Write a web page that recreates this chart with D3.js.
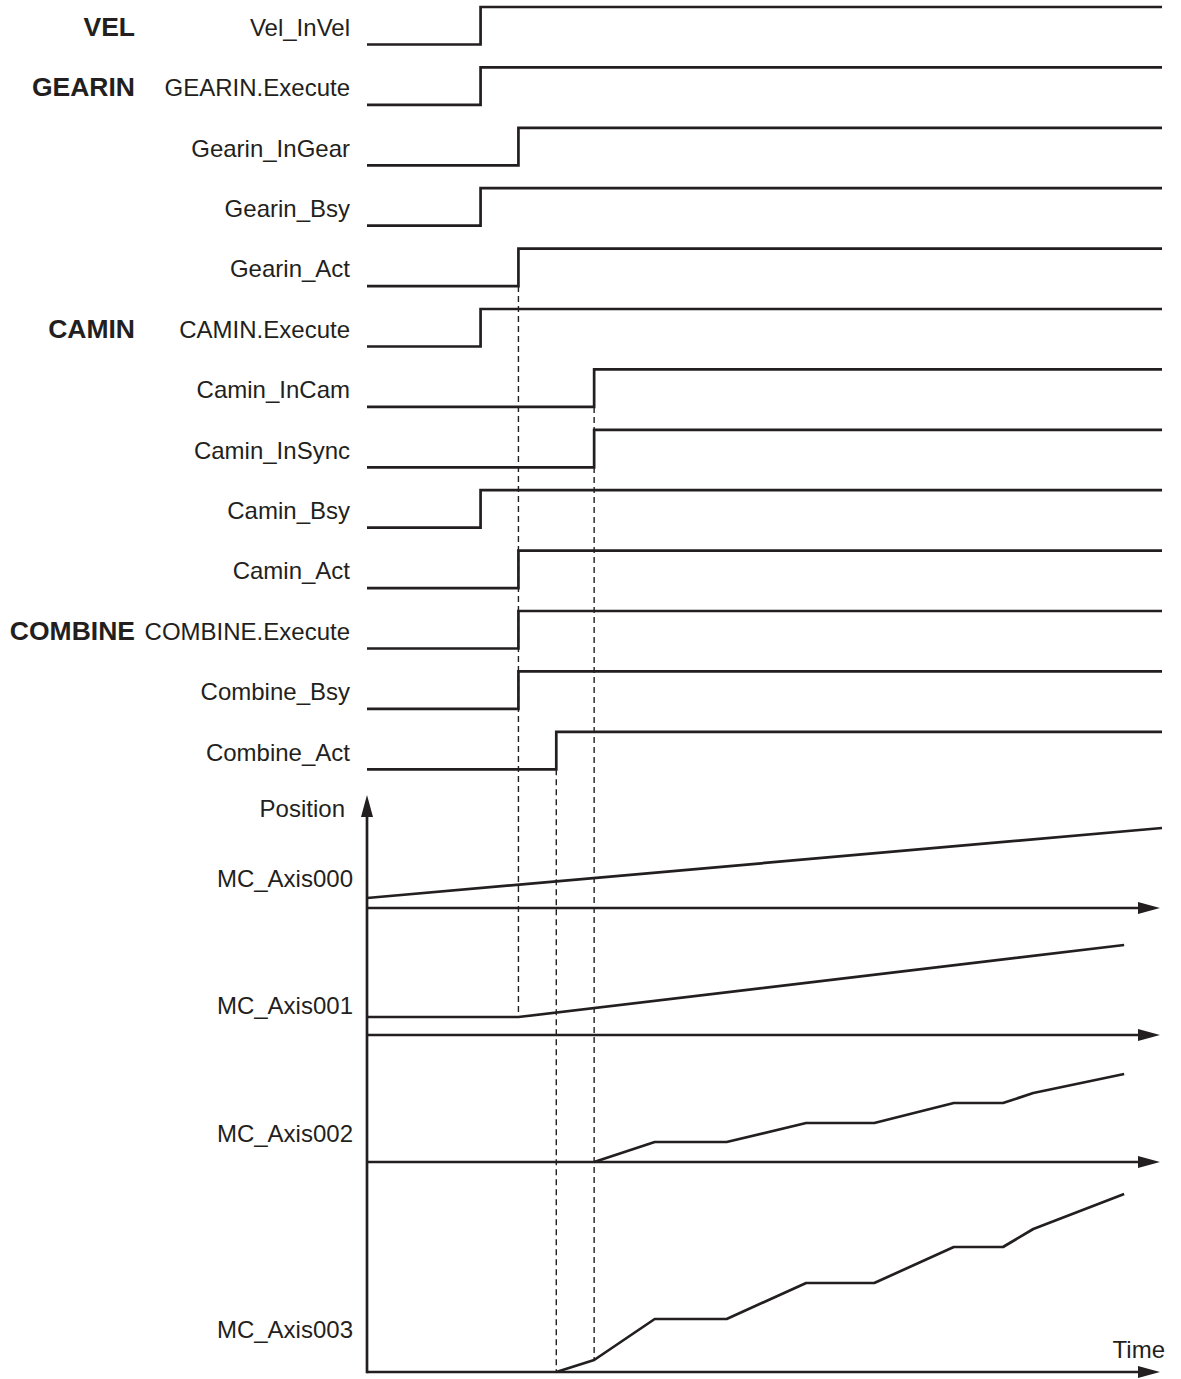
<!DOCTYPE html>
<html>
<head>
<meta charset="utf-8">
<script src="https://cdn.jsdelivr.net/npm/d3@7"></script>
<style>
  body { margin: 0; background: #fff; }
  svg { display: block; font-family: "Liberation Sans", Arial, Helvetica, sans-serif; }
  .lbl { font-size: 24px; fill: #231f20; }
  .grp { font-size: 26.5px; font-weight: bold; fill: #231f20; }
</style>
</head>
<body>
<div id="chart"></div>
<script>
// signal names and the time (in ticks) where each goes high
var signals = ["Vel_InVel", "GEARIN.Execute", "Gearin_InGear", "Gearin_Bsy", "Gearin_Act",
    "CAMIN.Execute", "Camin_InCam", "Camin_InSync", "Camin_Bsy", "Camin_Act",
    "COMBINE.Execute", "Combine_Bsy", "Combine_Act"];
var riseTimes = [3, 3, 4, 3, 4, 3, 6, 6, 3, 4, 4, 4, 5];

// function block names shown in bold next to their Execute row
var groupLabels = ["VEL", "GEARIN", "CAMIN", "COMBINE"];
var groupRows = ["Vel_InVel", "GEARIN.Execute", "CAMIN.Execute", "COMBINE.Execute"];

// axis positions over time
var axisNames = ["MC_Axis000", "MC_Axis001", "MC_Axis002", "MC_Axis003"];
var axis000 = [[0, 10], [21, 80]];
var axis001 = [[0, 18], [4, 18], [20, 90]];
var axis002 = [[6, 0], [7.6, 20], [9.5, 20], [11.6, 39], [13.4, 39], [15.5, 59], [16.8, 59], [17.6, 69], [20, 88]];
var axis003 = [[5, 0], [6, 12], [7.6, 53], [9.5, 53], [11.6, 89], [13.4, 89], [15.5, 125], [16.8, 125], [17.6, 143], [20, 178]];
var axisData = [axis000, axis001, axis002, axis003];

// dashed guides: time, signal it drops from, axis it lands on
var guideTimes = [4, 6, 5];
var guideFrom = ["Gearin_Act", "Camin_InCam", "Combine_Act"];
var guideTo = ["MC_Axis001", "MC_Axis003", "MC_Axis003"];

var timeEnd = 21;

var W = 1181, H = 1379;
var ink = "#231f20";

var svg = d3.select("#chart").append("svg")
    .attr("width", W)
    .attr("height", H);

// scales
var x = d3.scaleLinear().domain([0, timeEnd]).range([367, 1162]);
var row = d3.scalePoint().domain(signals).range([25.75, 25.75 + 60.4 * 12]);
var half = 18.75;

// lane baselines for position plots
var lane = d3.scaleOrdinal().domain(axisNames).range([908, 1035, 1162, 1372]);
var labelOffset = [-21, -21, -20, -34];
var pos = d3.scaleLinear().domain([0, 100]).range([0, -100]);

// ---- signal rows ----
var sig = svg.selectAll(".sig")
    .data(signals)
    .enter().append("g")
    .attr("class", "sig");

sig.append("path")
    .attr("fill", "none")
    .attr("stroke", ink)
    .attr("stroke-width", 2.7)
    .attr("d", function(d, i) {
        var lo = row(d) + half, hi = row(d) - half;
        var t = riseTimes[i];
        return "M" + x(0) + "," + lo + "H" + x(t) + "V" + hi + "H" + x(timeEnd);
    });

sig.append("text")
    .attr("class", "lbl")
    .attr("text-anchor", "end")
    .attr("x", 350)
    .attr("y", function(d) { return row(d) + 10; })
    .text(function(d) { return d; });

svg.selectAll(".grp")
    .data(groupLabels)
    .enter().append("text")
    .attr("class", "grp")
    .attr("text-anchor", "end")
    .attr("x", 135)
    .attr("y", function(d, i) { return row(groupRows[i]) + 10; })
    .text(function(d) { return d; });

// ---- position section ----
function valueAt(pts, t) {
    if (t <= pts[0][0]) return pts[0][1];
    for (var k = 1; k < pts.length; k++) {
        if (t <= pts[k][0]) {
            var a = pts[k - 1], b = pts[k];
            return a[1] + (b[1] - a[1]) * (t - a[0]) / (b[0] - a[0]);
        }
    }
    return pts[pts.length - 1][1];
}

// dashed guides (drawn first so solid lines sit on top)
svg.selectAll(".guide")
    .data(guideTimes)
    .enter().append("line")
    .attr("class", "guide")
    .attr("x1", function(d) { return x(d); })
    .attr("x2", function(d) { return x(d); })
    .attr("y1", function(d, i) { return row(guideFrom[i]) + half; })
    .attr("y2", function(d, i) {
        var name = guideTo[i];
        return lane(name) + pos(valueAt(axisData[axisNames.indexOf(name)], d));
    })
    .attr("stroke", ink)
    .attr("stroke-width", 1.4)
    .attr("stroke-dasharray", "6,4");

var tipX = x(timeEnd) - 2;
var arrowLen = 22, arrowHalf = 6;

// horizontal baselines with arrowheads
var base = svg.selectAll(".base")
    .data(axisNames)
    .enter().append("g")
    .attr("class", "base");

base.append("line")
    .attr("x1", x(0))
    .attr("x2", tipX - arrowLen + 2)
    .attr("y1", function(d) { return lane(d); })
    .attr("y2", function(d) { return lane(d); })
    .attr("stroke", ink)
    .attr("stroke-width", 2.7);

base.append("path")
    .attr("fill", ink)
    .attr("d", function(d) {
        var y0 = lane(d);
        return "M" + tipX + "," + y0 + "L" + (tipX - arrowLen) + "," + (y0 - arrowHalf) +
            "L" + (tipX - arrowLen) + "," + (y0 + arrowHalf) + "Z";
    });

base.append("text")
    .attr("class", "lbl")
    .attr("text-anchor", "end")
    .attr("x", 353)
    .attr("y", function(d, i) { return lane(d) + labelOffset[i]; })
    .text(function(d) { return d; });

// position curves
var line = d3.line()
    .x(function(d) { return x(d[0]); });

svg.selectAll(".curve")
    .data(axisData)
    .enter().append("path")
    .attr("class", "curve")
    .attr("fill", "none")
    .attr("stroke", ink)
    .attr("stroke-width", 2.7)
    .attr("stroke-linejoin", "round")
    .attr("d", function(d, i) {
        var b = lane(axisNames[i]);
        return line.y(function(p) { return b + pos(p[1]); })(d);
    });

// vertical position axis
var axisTop = 795;
svg.append("line")
    .attr("x1", x(0)).attr("x2", x(0))
    .attr("y1", lane("MC_Axis003") + 1.3)
    .attr("y2", axisTop + arrowLen - 2)
    .attr("stroke", ink)
    .attr("stroke-width", 2.7);

svg.append("path")
    .attr("fill", ink)
    .attr("d", "M" + x(0) + "," + axisTop + "L" + (x(0) - arrowHalf) + "," + (axisTop + arrowLen) +
        "L" + (x(0) + arrowHalf) + "," + (axisTop + arrowLen) + "Z");

svg.append("text")
    .attr("class", "lbl")
    .attr("text-anchor", "end")
    .attr("x", 345)
    .attr("y", 817)
    .text("Position");

svg.append("text")
    .attr("class", "lbl")
    .attr("text-anchor", "end")
    .attr("x", 1165)
    .attr("y", 1358)
    .text("Time");
</script>
</body>
</html>
